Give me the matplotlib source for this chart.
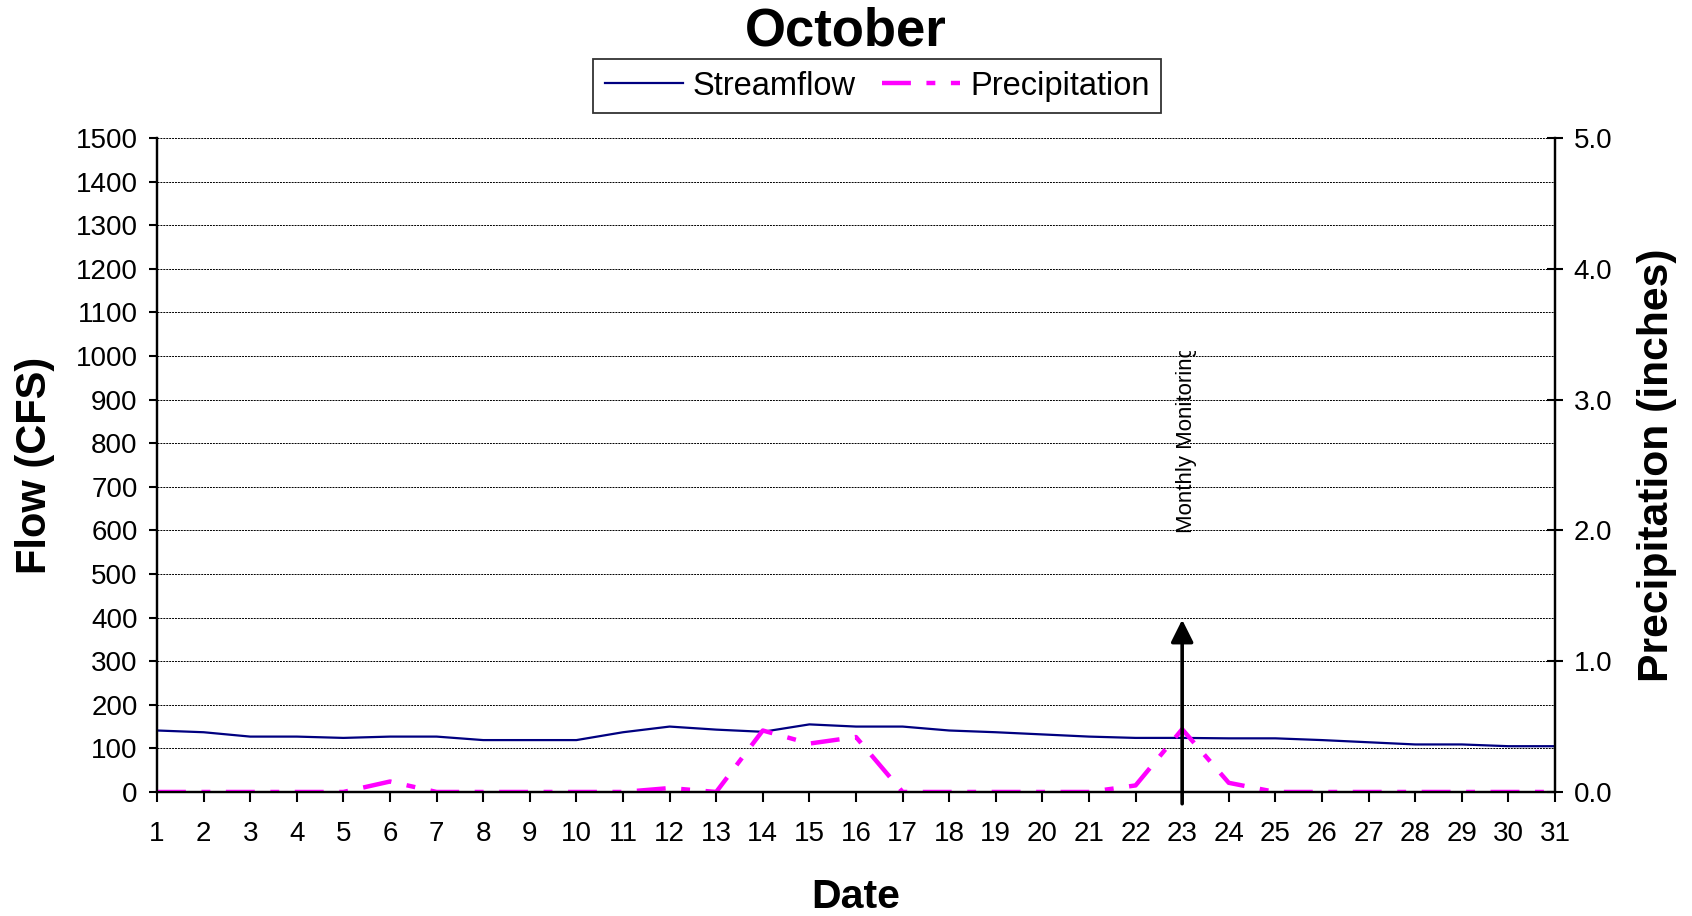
import matplotlib
matplotlib.use('Agg')
import matplotlib.pyplot as plt
from matplotlib.patches import Rectangle
import numpy as np

plt.rcParams['font.family'] = ['Liberation Sans', 'DejaVu Sans']

days = list(range(1, 32))
streamflow = [141, 137, 127, 127, 124, 127, 127, 119, 119, 119, 137, 150, 143, 138, 155, 150,
              150, 141, 137, 132, 127, 124, 124, 123, 123, 119, 114, 109, 109, 105, 105]
precip = [0, 0, 0, 0, 0, 0.08, 0, 0, 0, 0, 0, 0.03, 0, 0.47, 0.37, 0.42,
          0, 0, 0, 0, 0, 0.05, 0.48, 0.07, 0, 0, 0, 0, 0, 0, 0]
flow_ticks = list(range(0, 1600, 100))
precip_ticks = [0.0, 1.0, 2.0, 3.0, 4.0, 5.0]
monitor_day = 23

fig = plt.figure(figsize=(16.92, 9.16), dpi=100)
ax = fig.add_axes([0.0928, 0.1354, 0.8262, 0.7140])
ax2 = ax.twinx()

ax.plot(days, streamflow, '-', color='#000080', lw=1.6, label='Streamflow')
ax2.plot(days, precip, color='#FF00FF', lw=3.2, dashes=(6.5, 3.5, 2.0, 3.5), label='Precipitation')

ax.set_xlim(1, 31)
ax.set_ylim(0, 1500)
ax2.set_ylim(0, 5)
ax.set_xticks(days)
ax.set_yticks(flow_ticks)
ax2.set_yticks(precip_ticks)
ax2.set_yticklabels(['%.1f' % t for t in precip_ticks])

ax.grid(axis='y', color='black', linestyle=(0, (2, 1)), lw=0.7)
ax.set_axisbelow(True)

for a in (ax, ax2):
    a.spines['top'].set_visible(False)
    for s in ('left', 'bottom', 'right'):
        a.spines[s].set_linewidth(1.6)
        a.spines[s].set_color('black')

ax.tick_params(axis='y', direction='out', length=6, width=1.5, pad=8, labelsize=20)
ax.tick_params(axis='x', direction='out', length=7, width=1.5, pad=14, labelsize=20)
ax2.tick_params(axis='y', direction='inout', length=11, width=1.5, pad=8, labelsize=20)

ax.set_xlabel('Date', fontsize=29.5, fontweight='bold', labelpad=22)
ax.set_ylabel('Flow (CFS)', fontsize=30, fontweight='bold', labelpad=15)
ax2.set_ylabel('Precipitation (inches)', fontsize=30.7, fontweight='bold', labelpad=18)
fig.text(0.5, 1 - 31 / 916, 'October', fontsize=38, fontweight='bold', ha='center', va='center')

# arrow marking the monthly monitoring day
ax2.annotate('', xy=(monitor_day, 1.317), xytext=(monitor_day, -0.09),
             arrowprops=dict(arrowstyle='-|>', lw=2.6, color='black', mutation_scale=34,
                             shrinkA=0, shrinkB=0),
             annotation_clip=False)
# label box is clipped at the top like in the original
txt = ax2.text(monitor_day + 0.1, 1.98, 'Monthly Monitoring', rotation=90,
               ha='center', va='bottom', fontsize=16, clip_on=True)
clip = Rectangle((20, 1.9), 6, 1.47, transform=ax2.transData, visible=False)
ax2.add_patch(clip)
txt.set_clip_path(clip)

h1, l1 = ax.get_legend_handles_labels()
h2, l2 = ax2.get_legend_handles_labels()
leg = fig.legend(h1 + h2, l1 + l2, loc='center', bbox_to_anchor=(0.5185, 0.906), ncol=2,
                 fontsize=23.5, frameon=True, fancybox=False, edgecolor='black',
                 handlelength=2.4, columnspacing=0.8, handletextpad=0.3, borderpad=0.35)
leg.get_frame().set_linewidth(1.3)

plt.savefig('out.png', dpi=100)
